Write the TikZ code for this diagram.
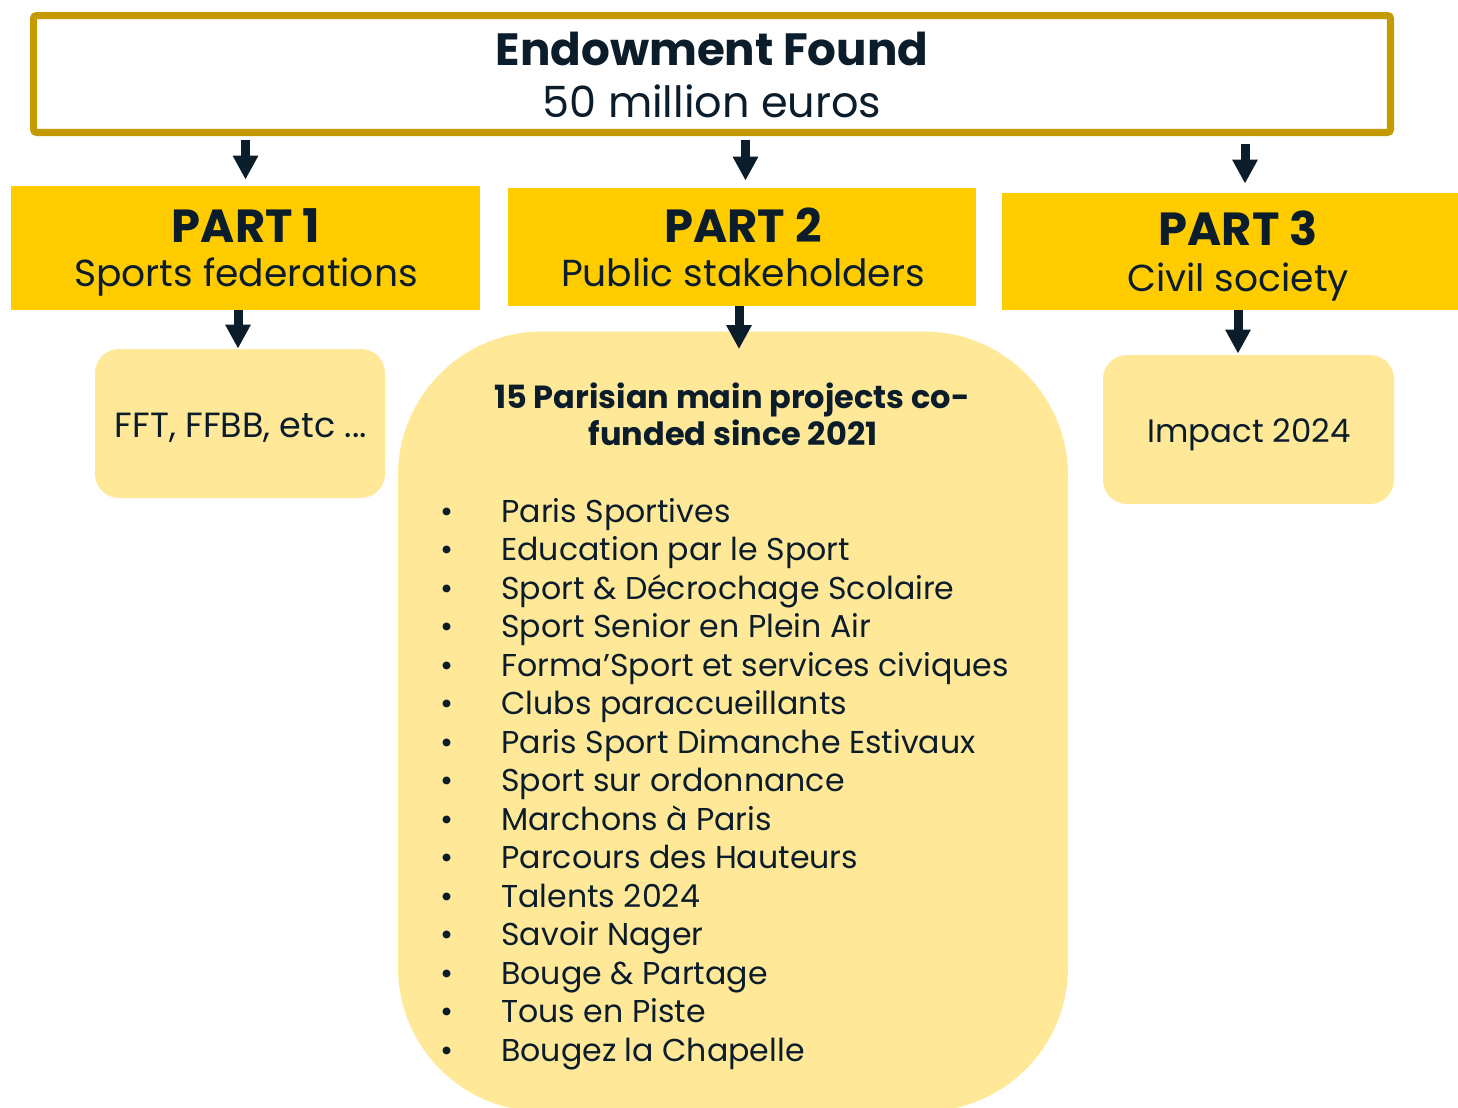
\documentclass[tikz,border=0pt]{standalone}
\usepackage{fontspec}
\setmainfont{Poppins}
\usetikzlibrary{arrows.meta}
\definecolor{goldline}{RGB}{196,154,0}
\definecolor{partyellow}{RGB}{255,204,0}
\definecolor{lightyellow}{RGB}{255,233,153}
\definecolor{navy}{RGB}{11,28,43}
\begin{document}
\begin{tikzpicture}[x=0.5pt,y=-0.5pt,
  every node/.style={text=navy, inner sep=0pt},
  partbox/.style={fill=partyellow, draw=none},
  softbox/.style={fill=lightyellow, draw=none, rounded corners=12pt},
  parttitle/.style={anchor=base, font=\bfseries\fontsize{23.2}{26}\selectfont},
  partsub/.style={anchor=base, font=\fontsize{18.8}{22}\selectfont},
  arr/.style={draw=navy, line width=4.5pt, -{Triangle[length=12pt,width=12pt]}},
  item/.style={anchor=base west, font=\fontsize{15.8}{18}\selectfont}
]
\useasboundingbox (0,0) rectangle (1458,1108);

% top box
\node[draw=goldline, line width=3.6pt, rounded corners=1.5pt,
      minimum width=678.4pt, minimum height=58.4pt] (top) at (712,74) {};
\node[anchor=base, font=\bfseries\fontsize{22.6}{26}\selectfont] (t1) at (712,65) {Endowment Found};
\node[anchor=base, font=\fontsize{21.5}{26}\selectfont] (t2) at (712,117) {50 million euros};

% parts
\node[partbox, minimum width=234.5pt, minimum height=62pt] (p1) at (245.5,248) {};
\node[parttitle] (p1t) at (246,242) {PART 1};
\node[partsub] (p1s) at (246,286) {Sports federations};

\node[partbox, minimum width=234pt, minimum height=59pt] (p2) at (742,247) {};
\node[parttitle] (p2t) at (743,242) {PART 2};
\node[partsub] (p2s) at (743,286) {Public stakeholders};

\node[partbox, minimum width=228pt, minimum height=58.5pt] (p3) at (1230,251.5) {};
\node[parttitle] (p3t) at (1238,245) {PART 3};
\node[partsub] (p3s) at (1238,291) {Civil society};

% lower boxes
\node[softbox, minimum width=145pt, minimum height=74.5pt] (b1) at (240,423.5) {};
\node[anchor=base, font=\fontsize{17.5}{20}\selectfont] (b1t) at (241,437) {FFT, FFBB, etc ...};

\node[softbox, minimum width=335pt, minimum height=390pt, rounded corners=72pt] (b2) at (733,721.5) {};

\node[softbox, minimum width=145.5pt, minimum height=74.5pt] (b3) at (1248.5,429.5) {};
\node[anchor=base, font=\fontsize{16.2}{19}\selectfont] (b3t) at (1249,442) {Impact 2024};

% heading in big box
\node[anchor=base, font=\bfseries\fontsize{16}{18}\selectfont] (h1) at (732,408) {15 Parisian main projects co-};
\node[anchor=base, font=\bfseries\fontsize{16}{18}\selectfont] (h2) at (733,445) {funded since 2021};

% list
\foreach \t [count=\i] in {Paris Sportives,Education par le Sport,Sport \& Décrochage Scolaire,Sport Senior en Plein Air,Forma’Sport et services civiques,Clubs paraccueillants,Paris Sport Dimanche Estivaux,Sport sur ordonnance,Marchons à Paris,Parcours des Hauteurs,Talents 2024,Savoir Nager,Bouge \& Partage,Tous en Piste,Bougez la Chapelle}{
  \node[item] (l\i) at (440,{522+38.5*(\i-1)}) {\makebox[30.5pt][l]{•}\t};
}

% arrow positions
\coordinate (a1) at (245.5,0);
\coordinate (a2) at (745.5,0);
\coordinate (a3) at (1245,0);
\coordinate (c1) at (238,0);
\coordinate (c2) at (739,0);
\coordinate (c3) at (1238,0);

\draw[arr, shorten <=1.8pt, shorten >=3pt] (top.south -| a1) -- (p1.north -| a1);
\draw[arr, shorten <=1.8pt, shorten >=3.5pt] (top.south -| a2) -- (p2.north -| a2);
\draw[arr, shorten <=3.8pt, shorten >=4.5pt] (top.south -| a3) -- (p3.north -| a3);

\draw[arr] (p1.south -| c1) -- (b1.north -| c1);
\draw[arr, shorten >=-9pt] (p2.south -| c2) -- (b2.north -| c2);
\draw[arr, shorten >=0.5pt] (p3.south -| c3) -- (b3.north -| c3);
\end{tikzpicture}
\end{document}
